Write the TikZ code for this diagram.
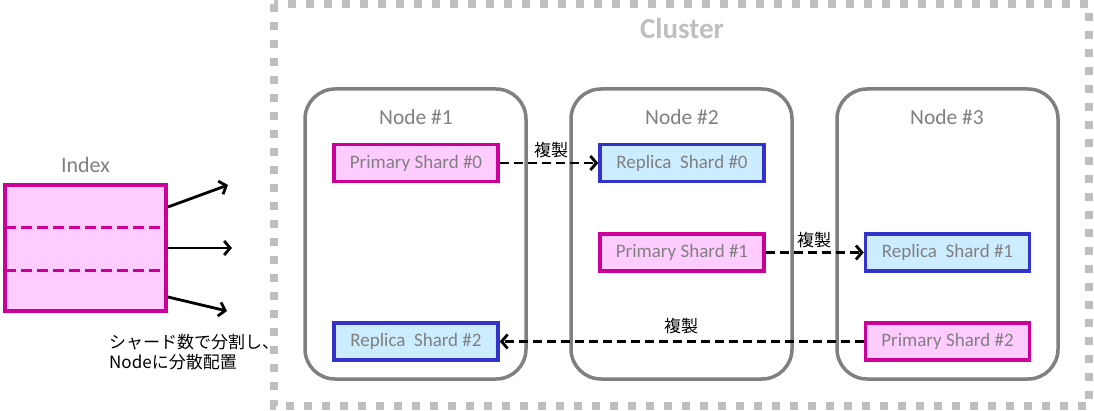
\documentclass[tikz,border=0pt]{standalone}
\usepackage{fontspec}
\setmainfont{Carlito}
\newfontfamily\jp{Noto Sans CJK JP}
\usetikzlibrary{arrows.meta}
\definecolor{pfill}{HTML}{FFCCFF}
\definecolor{pline}{HTML}{CC0099}
\definecolor{rfill}{HTML}{CCECFF}
\definecolor{rline}{HTML}{3333CC}
\definecolor{txtgray}{HTML}{808080}
\definecolor{clgray}{HTML}{BFBFBF}
\tikzset{
  primary/.style={draw=pline, fill=pfill, line width=3.5pt, minimum width=164pt, minimum height=37pt, inner sep=0pt, text=txtgray, font=\fontsize{19}{21}\selectfont},
  replica/.style={draw=rline, fill=rfill, line width=3.5pt, minimum width=164pt, minimum height=37pt, inner sep=0pt, text=txtgray, font=\fontsize{19}{21}\selectfont},
  hostbox/.style={draw=txtgray, line width=3.5pt, rounded corners=30pt, minimum width=221pt, minimum height=290pt, inner sep=0pt},
  hostlabel/.style={text=txtgray, font=\fontsize{21.5}{24}\selectfont},
  repl/.style={dashed, dash pattern=on 9pt off 5pt, line width=2.8pt, -{Straight Barb[length=6pt,width=14pt,line width=2.8pt]}},
  splitarrow/.style={line width=2.8pt, -{Straight Barb[length=6pt,width=14pt,line width=2.8pt]}},
  jplabel/.style={font=\jp\fontsize{17}{20}\selectfont, inner sep=0pt}
}
\begin{document}
\begin{tikzpicture}[x=1pt,y=-1pt]
\useasboundingbox (0,0) rectangle (1094,411);
% cluster
\draw[clgray, line width=8pt, dash pattern=on 8pt off 10pt] (274,4) rectangle (1089,406);
\node[text=clgray, font=\bfseries\fontsize{29}{32}\selectfont] (cl) at (682,28) {Cluster};
% hosts
\node[hostbox] (h1) at (415.5,234) {};
\node[hostbox] (h2) at (681.5,234) {};
\node[hostbox] (h3) at (947.5,234) {};
\node[hostlabel] (h1l) at (416,117) {Node \#1};
\node[hostlabel] (h2l) at (682,117) {Node \#2};
\node[hostlabel] (h3l) at (947,117) {Node \#3};
% shards
\node[primary] (p0) at (416,163) {Primary Shard \#0};
\node[replica] (r0) at (682,163) {Replica\ \ Shard \#0};
\node[primary] (p1) at (682,252.5) {Primary Shard \#1};
\node[replica] (r1) at (947.5,252.5) {Replica\ \ Shard \#1};
\node[primary] (p2) at (947.5,341.5) {Primary Shard \#2};
\node[replica] (r2) at (416,341.5) {Replica\ \ Shard \#2};
% replication
\draw[repl] (p0.east) -- (r0.west);
\draw[repl] (p1.east) -- (r1.west);
\draw[repl] (p2.west) -- (r2.east);
\node[jplabel] (c0) at (551,150) {複製};
\node[jplabel] (c1) at (814,240) {複製};
\node[jplabel] (c2) at (681,326) {複製};
% index
\node[draw=pline, fill=pfill, line width=3.5pt, minimum width=161pt, minimum height=126pt, inner sep=0pt] (idx) at (85.5,248) {};
\node[text=txtgray, font=\fontsize{22}{24}\selectfont] (idxl) at (85.5,165) {Index};
\coordinate (d1a) at (5,228);
\coordinate (d1b) at (166,228);
\coordinate (d2a) at (5,271);
\coordinate (d2b) at (166,271);
\draw[pline, line width=3pt, dash pattern=on 11pt off 5pt] (d1a) -- (d1b);
\draw[pline, line width=3pt, dash pattern=on 11pt off 5pt] (d2a) -- (d2b);
\coordinate (a1s) at (168,207);
\coordinate (a1e) at (228,185);
\coordinate (a2s) at (168,248);
\coordinate (a2e) at (232,248);
\coordinate (a3s) at (168,297);
\coordinate (a3e) at (227,311);
\draw[splitarrow] (a1s) -- (a1e);
\draw[splitarrow] (a2s) -- (a2e);
\draw[splitarrow] (a3s) -- (a3e);
\node[jplabel, anchor=west] (t1) at (109,342) {シャード数で分割し、};
\node[jplabel, anchor=west] (t2) at (109,362) {Nodeに分散配置};
\end{tikzpicture}
\end{document}
